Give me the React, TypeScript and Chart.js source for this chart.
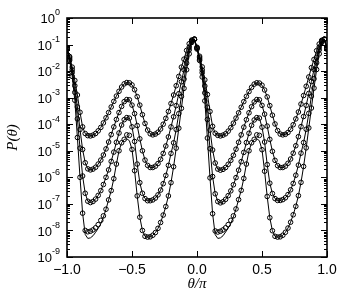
import React, { useEffect, useRef } from 'react';
import { Chart, registerables } from 'chart.js';
Chart.register(...registerables);

// theta / pi sample positions
const theta = [
  -1, -0.98, -0.96, -0.94, -0.92, -0.9, -0.88, -0.86, -0.84, -0.82,
  -0.8, -0.78, -0.76, -0.74, -0.72, -0.7, -0.68, -0.66, -0.64, -0.62,
  -0.6, -0.58, -0.56, -0.54, -0.52, -0.5, -0.48, -0.46, -0.44, -0.42,
  -0.4, -0.38, -0.36, -0.34, -0.32, -0.3, -0.28, -0.26, -0.24, -0.22,
  -0.2, -0.18, -0.16, -0.14, -0.12, -0.1, -0.08, -0.06, -0.04, -0.02,
  0, 0.02, 0.04, 0.06, 0.08, 0.1, 0.12, 0.14, 0.16, 0.18,
  0.2, 0.22, 0.24, 0.26, 0.28, 0.3, 0.32, 0.34, 0.36, 0.38,
  0.4, 0.42, 0.44, 0.46, 0.48, 0.5, 0.52, 0.54, 0.56, 0.58,
  0.6, 0.62, 0.64, 0.66, 0.68, 0.7, 0.72, 0.74, 0.76, 0.78,
  0.8, 0.82, 0.84, 0.86, 0.88, 0.9, 0.92, 0.94, 0.96, 0.98,
  1,
];

// log10 P(theta)
const logP1 = [
  -1.12, -1.45, -1.85, -2.35, -2.9, -3.55, -4.1, -4.35, -4.43, -4.44,
  -4.41, -4.35, -4.25, -4.12, -3.95, -3.76, -3.56, -3.35, -3.14, -2.94,
  -2.76, -2.6, -2.48, -2.43, -2.44, -2.52, -2.7, -2.96, -3.28, -3.64,
  -3.97, -4.22, -4.36, -4.4, -4.37, -4.3, -4.18, -4.0, -3.78, -3.52,
  -3.22, -2.9, -2.55, -2.2, -1.85, -1.55, -1.22, -0.97, -0.83,
  -0.8,
  -1.1, -1.44, -1.84, -2.33, -2.88, -3.52, -4.08, -4.34, -4.42, -4.44,
  -4.41, -4.36, -4.26, -4.13, -3.96, -3.77, -3.57, -3.36, -3.15, -2.95,
  -2.77, -2.61, -2.49, -2.44, -2.45, -2.53, -2.71, -2.97, -3.3, -3.66,
  -3.99, -4.24, -4.37, -4.4, -4.38, -4.31, -4.19, -4.02, -3.8, -3.54,
  -3.24, -2.92, -2.57, -2.22, -1.87, -1.56, -1.23, -0.98, -0.84,
  -0.8, -1.12,
];

const logP2 = [
  -1.13, -1.5, -1.95, -2.55, -3.35, -4.2, -4.95, -5.45, -5.68, -5.72,
  -5.69, -5.62, -5.5, -5.35, -5.16, -4.93, -4.67, -4.39, -4.1, -3.82,
  -3.56, -3.33, -3.15, -3.07, -3.08, -3.28, -3.6, -4.05, -4.55, -5.0,
  -5.35, -5.55, -5.63, -5.63, -5.58, -5.48, -5.32, -5.1, -4.82, -4.48,
  -4.1, -3.72, -3.3, -2.85, -2.4, -1.95, -1.5, -1.1, -0.85,
  -0.8,
  -1.12, -1.5, -1.96, -2.56, -3.36, -4.22, -4.97, -5.46, -5.69, -5.73,
  -5.7, -5.63, -5.51, -5.36, -5.17, -4.94, -4.68, -4.4, -4.11, -3.83,
  -3.57, -3.34, -3.16, -3.07, -3.08, -3.29, -3.62, -4.07, -4.57, -5.02,
  -5.36, -5.56, -5.63, -5.63, -5.58, -5.47, -5.31, -5.09, -4.81, -4.47,
  -4.09, -3.71, -3.29, -2.84, -2.39, -1.94, -1.49, -1.1, -0.85,
  -0.8, -1.13,
];

const logP3 = [
  -1.15, -1.55, -2.05, -2.8, -3.8, -4.9, -5.95, -6.6, -6.9, -6.95,
  -6.91, -6.82, -6.68, -6.5, -6.27, -6.0, -5.72, -5.4, -5.05, -4.68,
  -4.33, -4.03, -3.83, -3.75, -3.77, -4.1, -4.65, -5.5, -6.2, -6.6,
  -6.8, -6.88, -6.88, -6.85, -6.78, -6.66, -6.48, -6.24, -5.93, -5.55,
  -5.1, -4.7, -4.2, -3.6, -2.95, -2.3, -1.7, -1.2, -0.88,
  -0.8,
  -1.14, -1.55, -2.06, -2.82, -3.82, -4.92, -5.97, -6.62, -6.91, -6.96,
  -6.92, -6.83, -6.69, -6.51, -6.28, -6.01, -5.73, -5.41, -5.06, -4.69,
  -4.34, -4.04, -3.84, -3.75, -3.77, -4.11, -4.67, -5.52, -6.22, -6.61,
  -6.8, -6.87, -6.87, -6.84, -6.77, -6.65, -6.47, -6.23, -5.92, -5.54,
  -5.09, -4.69, -4.19, -3.59, -2.94, -2.29, -1.69, -1.2, -0.88,
  -0.8, -1.15,
];

// lowest family: solid curve and the open-circle points
const logP4Line = [
  -1.18, -1.6, -2.2, -3.1, -4.5, -6.0, -7.35, -8.15, -8.3, -8.28,
  -8.2, -8.07, -7.92, -7.75, -7.5, -7.2, -6.85, -6.5, -6.05, -5.5,
  -5.0, -4.7, -4.57, -4.55, -4.62, -4.95, -5.75, -6.7, -7.5, -8.0,
  -8.22, -8.25, -8.24, -8.18, -8.08, -7.92, -7.7, -7.42, -7.1, -6.7,
  -6.2, -5.6, -4.9, -4.15, -3.4, -2.65, -1.95, -1.35, -0.92,
  -0.8,
  -1.17, -1.6, -2.22, -3.12, -4.52, -6.02, -7.37, -8.16, -8.3, -8.28,
  -8.2, -8.06, -7.91, -7.74, -7.49, -7.19, -6.84, -6.49, -6.04, -5.5,
  -5.0, -4.7, -4.57, -4.55, -4.62, -4.96, -5.77, -6.72, -7.52, -8.01,
  -8.22, -8.25, -8.24, -8.18, -8.07, -7.91, -7.69, -7.41, -7.09, -6.69,
  -6.19, -5.59, -4.89, -4.14, -3.39, -2.64, -1.94, -1.35, -0.92,
  -0.8, -1.18,
];

const logP4Points = [
  -1.18, -1.6, -2.2, -3.1, -4.5, -6.0, -7.35, -8.0, -8.05, -8.03,
  -7.98, -7.9, -7.78, -7.62, -7.45, -7.2, -6.85, -6.5, -6.05, -5.5,
  -5.0, -4.7, -4.57, -4.4, -4.42, -4.95, -5.75, -6.7, -7.5, -8.0,
  -8.22, -8.25, -8.24, -8.18, -8.08, -7.92, -7.7, -7.42, -7.1, -6.7,
  -6.2, -5.6, -4.9, -4.15, -3.4, -2.65, -1.95, -1.35, -0.92,
  -0.8,
  -1.17, -1.6, -2.22, -3.12, -4.52, -6.02, -7.37, -8.02, -8.06, -8.03,
  -7.98, -7.9, -7.78, -7.62, -7.45, -7.19, -6.84, -6.49, -6.04, -5.5,
  -5.0, -4.7, -4.57, -4.4, -4.42, -4.96, -5.77, -6.72, -7.52, -8.01,
  -8.22, -8.25, -8.24, -8.18, -8.07, -7.91, -7.69, -7.41, -7.09, -6.69,
  -6.19, -5.59, -4.89, -4.14, -3.39, -2.64, -1.94, -1.35, -0.92,
  -0.8, -1.18,
];

const xTickValues = [-1, -0.5, 0, 0.5, 1];
const xTickLabels = ['\u22121.0', '\u22120.5', '0.0', '0.5', '1.0'];
const yTickExponents = [0, -1, -2, -3, -4, -5, -6, -7, -8, -9];
const xTitle = '\u03B8/\u03C0';
const yTitle = 'P(\u03B8)';

const W = 346;
const H = 307;

function toPoints(logs: number[]) {
  return logs.map((v, i) => ({ x: theta[i], y: Math.pow(10, v) }));
}

const framePlugin = {
  id: 'framePlugin',
  afterDatasetsDraw(chart: any) {
    const { ctx, chartArea: a, scales } = chart;
    const xs = scales.x;
    const ys = scales.y;
    ctx.save();
    ctx.strokeStyle = '#000';
    ctx.lineWidth = 1;
    ctx.beginPath();
    for (const e of yTickExponents) {
      for (let m = 1; m <= 9; m++) {
        const v = m * Math.pow(10, e);
        if (v > 1.0000001 || v < 0.99e-9) continue;
        const y = Math.round(ys.getPixelForValue(v)) + 0.5;
        const len = m === 1 ? 6 : 3;
        ctx.moveTo(a.left, y);
        ctx.lineTo(a.left + len, y);
        ctx.moveTo(a.right, y);
        ctx.lineTo(a.right - len, y);
      }
    }
    for (const t of xTickValues) {
      const x = Math.round(xs.getPixelForValue(t)) + 0.5;
      ctx.moveTo(x, a.bottom);
      ctx.lineTo(x, a.bottom - 6);
      ctx.moveTo(x, a.top);
      ctx.lineTo(x, a.top + 6);
    }
    ctx.stroke();
    ctx.lineWidth = 1.6;
    ctx.strokeRect(a.left, a.top, a.right - a.left, a.bottom - a.top);
    ctx.restore();
  },
  afterDraw(chart: any) {
    const { ctx, chartArea: a, scales } = chart;
    const xs = scales.x;
    const ys = scales.y;
    ctx.save();
    ctx.fillStyle = '#000';
    // y tick labels 10^e
    const expRight = a.left - 7;
    for (const e of yTickExponents) {
      const y = ys.getPixelForValue(Math.pow(10, e));
      const expText = String(e);
      ctx.font = '9px "Liberation Sans", Arial, sans-serif';
      const ew = ctx.measureText(expText).width;
      ctx.textAlign = 'right';
      ctx.textBaseline = 'middle';
      ctx.fillText(expText, expRight, y - 5);
      ctx.font = '13px "Liberation Sans", Arial, sans-serif';
      ctx.fillText('10', expRight - ew, y + 1.5);
    }
    // x tick labels
    ctx.font = '14px "Liberation Sans", Arial, sans-serif';
    ctx.textAlign = 'center';
    ctx.textBaseline = 'top';
    xTickValues.forEach((t, i) => {
      ctx.fillText(xTickLabels[i], xs.getPixelForValue(t), a.bottom + 6);
    });
    // axis titles
    ctx.font = 'italic 15px "Liberation Serif", "Times New Roman", serif';
    ctx.textBaseline = 'middle';
    ctx.fillText(xTitle, (a.left + a.right) / 2, a.bottom + 27);
    ctx.translate(13, (a.top + a.bottom) / 2);
    ctx.rotate(-Math.PI / 2);
    ctx.fillText(yTitle, 0, 0);
    ctx.restore();
  },
};

export default function App() {
  const ref = useRef<HTMLCanvasElement | null>(null);
  useEffect(() => {
    if (!ref.current) return;
    const lineDs = (label: string, logs: number[]) => ({
      label,
      data: toPoints(logs),
      borderColor: '#000',
      borderWidth: 1,
      pointRadius: 0,
      fill: false,
      tension: 0,
    });
    const pointDs = (label: string, logs: number[]) => ({
      label,
      data: toPoints(logs),
      showLine: false,
      borderColor: '#000',
      backgroundColor: 'rgba(0,0,0,0)',
      pointRadius: 2.3,
      pointBorderWidth: 1,
      pointBorderColor: '#000',
      pointBackgroundColor: 'rgba(255,255,255,0)',
    });
    const chart = new Chart(ref.current, {
      type: 'line',
      data: {
        datasets: [
          lineDs('c1', logP1),
          lineDs('c2', logP2),
          lineDs('c3', logP3),
          lineDs('c4', logP4Line),
          pointDs('p1', logP1),
          pointDs('p2', logP2),
          pointDs('p3', logP3),
          pointDs('p4', logP4Points),
        ] as any,
      },
      options: {
        responsive: false,
        animation: false,
        layout: { padding: { left: 67, top: 18, right: W - 327, bottom: H - 257 } },
        plugins: { legend: { display: false }, tooltip: { enabled: false } },
        scales: {
          x: { type: 'linear', min: -1, max: 1, display: false },
          y: { type: 'logarithmic', min: 1e-9, max: 1, display: false },
        },
      },
      plugins: [framePlugin],
    } as any);
    return () => chart.destroy();
  }, []);
  return (
    <div style={{ position: 'fixed', left: 0, top: 0, width: W, height: H, background: '#fff' }}>
      <canvas ref={ref} width={W} height={H} style={{ display: 'block' }} />
    </div>
  );
}
